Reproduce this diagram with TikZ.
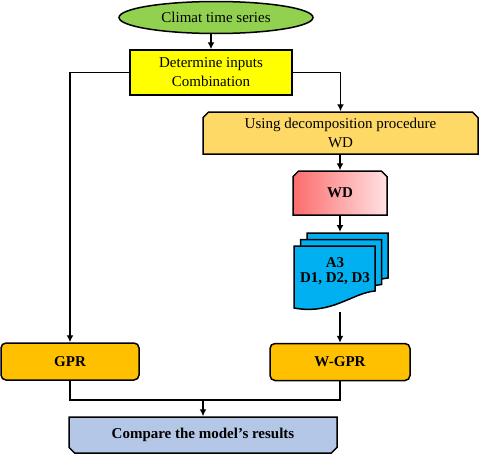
\documentclass[tikz,border=0pt]{standalone}
\usepackage{fontspec}
\setmainfont{Liberation Serif}
\usepackage{xcolor}
\usetikzlibrary{arrows.meta,shapes.geometric,shapes.misc}
\definecolor{climgreen}{HTML}{92D050}
\definecolor{inyellow}{HTML}{FFFF00}
\definecolor{decomp}{HTML}{FFD966}
\definecolor{wdred}{HTML}{FC6C6C}
\definecolor{wdpink}{HTML}{FFE2E4}
\definecolor{subblue}{HTML}{00B0F0}
\definecolor{modgold}{HTML}{FFC000}
\definecolor{cmpblue}{HTML}{B4C7E7}
\tikzset{
  blk/.style={draw,line width=1.5pt,align=center,inner sep=0pt,
              font=\fontsize{15}{19}\selectfont},
  startblk/.style={blk,ellipse,fill=climgreen,minimum width=194pt,minimum height=32pt},
  inblk/.style={blk,fill=inyellow,minimum width=162pt,minimum height=45pt},
  cutblk/.style={blk,chamfered rectangle,chamfered rectangle xsep=2.8pt,
                 chamfered rectangle ysep=2.8pt},
  decblk/.style={cutblk,chamfered rectangle corners={north west,north east},fill=decomp,
                 minimum width=275pt,minimum height=42pt},
  wdblk/.style={cutblk,chamfered rectangle corners={north west,north east},
                left color=wdred,right color=wdpink,
                minimum width=94pt,minimum height=44pt,font=\fontsize{15}{19}\selectfont\bfseries},
  modblk/.style={blk,rounded corners=5pt,fill=modgold,minimum height=37pt,
                 font=\fontsize{15}{19}\selectfont\bfseries},
  cmpblk/.style={cutblk,chamfered rectangle corners={south west,south east},fill=cmpblue,
                 minimum width=268pt,minimum height=36pt,font=\fontsize{15}{19}\selectfont\bfseries},
  sheet/.style={draw,line width=1.5pt,fill=subblue},
  flow/.style={-{Latex[length=7pt,width=7pt]},line width=1.5pt},
  link/.style={line width=1.5pt},
}

\begin{document}
\begin{tikzpicture}[x=1pt,y=-1pt]
  \useasboundingbox (0,0) rectangle (480,455);

  \node[startblk] (clim) at (216,17.5) {Climat time series};
  \node[inblk] (det) at (211,72.5) {Determine inputs\\Combination};
  \node[decblk] (using) at (340.5,133) {Using decomposition procedure\\WD};
  \node[wdblk] (wd) at (340,193) {WD};

  \foreach \s in {13,6.5,0}
    \draw[sheet,shift={(\s,-\s)}] (294,246) -- (375,246) -- (375,291)
      .. controls (352,293) and (332,315) .. (294,308) -- cycle;
  \node[align=center,font=\fontsize{15}{15}\selectfont\bfseries] (docs) at (335,271)
    {A3\\D1, D2, D3};
  \coordinate (docstop) at (339,232);
  \coordinate (docsbot) at (339,312);

  \node[modblk,minimum width=138pt] (gpr) at (70,361.5) {GPR};
  \node[modblk,minimum width=140pt] (wgpr) at (340,362) {W-GPR};
  \node[cmpblk] (cmp) at (203,435) {Compare the model’s results};
  \coordinate (join) at (203,400);

  \draw[flow] (det.north |- clim.south) -- (det.north);
  \draw[flow] (det.west) -| (gpr.north);
  \draw[flow] (det.east) -| (using.north);
  \draw[flow] (wd.north |- using.south) -- (wd.north);
  \draw[flow] (wd.south) -- (wd.south |- docstop);
  \draw[flow] (wgpr.north |- docsbot) -- (wgpr.north);
  \draw[link] (gpr.south) |- (join) -| (wgpr.south);
  \draw[flow] (join) -- (cmp.north);
\end{tikzpicture}
\end{document}
